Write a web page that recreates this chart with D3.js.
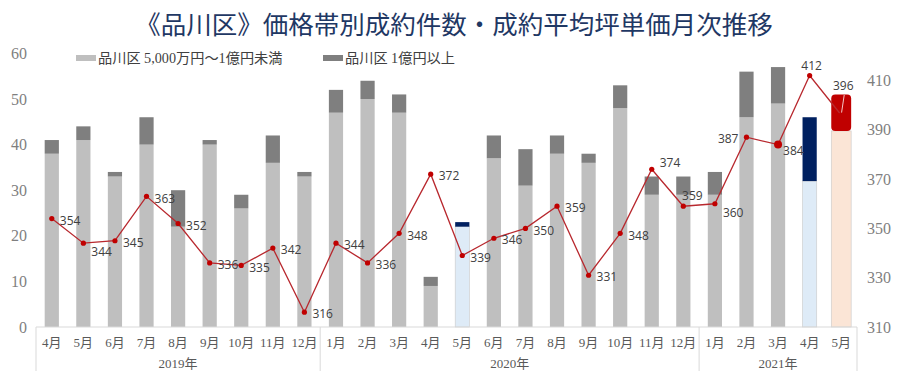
<!DOCTYPE html>
<meta charset="utf-8">
<style>
body { margin: 0; background: #fff; }
.num { font: 16px "Liberation Serif", serif; fill: #7f7f7f; }
.cat { font: 13px "Liberation Serif", "Noto Sans CJK JP", serif; fill: #595959; }
.lbl { font: 12px "Open Sans", "Noto Sans", sans-serif; fill: #404040; }
</style>
<body>
<script src="https://cdn.jsdelivr.net/npm/d3@7"></script>
<script>
// months on the lower category row, years on the upper one
var months = ["4月","5月","6月","7月","8月","9月","10月","11月","12月",
  "1月","2月","3月","4月","5月","6月","7月","8月","9月","10月","11月","12月",
  "1月","2月","3月","4月","5月"];
var years = [{name: "2019年", n: 9}, {name: "2020年", n: 12}, {name: "2021年", n: 5}];

// counts (left axis)
var lowCount  = [38,41,33,40,22,40,26,36,33, 47,50,47,9,22,37,31,38,36,48,29,29, 29,46,49,32,43];
var highCount = [3,3,1,6,8,1,3,6,1, 5,4,4,2,1,5,8,4,2,5,4,4, 5,10,8,14,8];

// average price per tsubo (right axis)
var unitPrice = [354,344,345,363,352,336,335,342,316, 344,336,348,372,339,346,350,359,331,348,374,359, 360,387,384,412,396];

var leftTicks = [0,10,20,30,40,50,60];
var rightTicks = [310,330,350,370,390,410];

var legendNames = ["品川区 5,000万円～1億円未満", "品川区 1億円以上"];

// highlighted bars: index -> colours
var special = {13: ["#deebf7", "#002060"], 24: ["#deebf7", "#002060"], 25: ["#fbe5d6", "#c00000"]};
var labelSide = {20: "t", 22: "l", 24: "t", 25: "tt"};

var W = 900, H = 371;
var plotL = 36, plotR = 857, plotB = 327, plotT = 53.4;

var svg = d3.select("body").append("svg").attr("width", W).attr("height", H);

var x = d3.scaleBand().domain(d3.range(months.length)).range([plotL, plotR])
    .paddingInner(0.55).paddingOuter(0.275);
var y = d3.scaleLinear().domain([0, 60]).range([plotB, plotT]);
var y2 = d3.scaleLinear().domain([310, 421]).range([plotB, plotT]);

// title
svg.append("text")
    .attr("x", 454).attr("y", 27)
    .attr("text-anchor", "middle").attr("dominant-baseline", "middle")
    .style("font", "25.5px 'Noto Sans CJK JP', sans-serif")
    .style("fill", "#1f3864")
    .text("《品川区》価格帯別成約件数・成約平均坪単価月次推移");

// legend
var lg = svg.selectAll(".legend").data(legendNames).enter().append("g")
    .attr("transform", function(d, i) { return "translate(" + [76, 323][i] + ",58)"; });
lg.append("rect").attr("x", 0).attr("y", -3).attr("width", 20).attr("height", 6)
    .style("fill", function(d, i) { return ["#bfbfbf", "#7f7f7f"][i]; });
lg.append("text").attr("x", 22).attr("dy", "0.35em")
    .style("font", "14.2px 'Liberation Serif', 'Noto Sans CJK JP', serif")
    .style("fill", "#404040")
    .text(function(d) { return d; });

// axes
var yl = svg.append("g").attr("transform", "translate(27,0)")
    .call(d3.axisLeft(y).tickValues(leftTicks).tickSize(0).tickPadding(0));
yl.select(".domain").remove();
yl.selectAll("text").attr("class", "num");

var yr = svg.append("g").attr("transform", "translate(867,0)")
    .call(d3.axisRight(y2).tickValues(rightTicks).tickSize(0).tickPadding(0));
yr.select(".domain").remove();
yr.selectAll("text").attr("class", "num");

// bars
var bars = svg.append("g");
var bw = x.bandwidth();
months.forEach(function(m, i) {
  var c = special[i] || ["#bfbfbf", "#7f7f7f"];
  var w = i === 25 ? bw * 1.4 : bw;
  var cx = x(i) + bw / 2;
  bars.append("rect")
      .attr("x", cx - w / 2).attr("width", w)
      .attr("y", y(lowCount[i])).attr("height", y(0) - y(lowCount[i]))
      .style("fill", c[0])
      .style("stroke", special[i] ? "#c9c9c9" : "none").style("stroke-width", 0.6);
  bars.append("rect")
      .attr("x", cx - w / 2).attr("width", w)
      .attr("y", y(lowCount[i] + highCount[i])).attr("height", y(lowCount[i]) - y(lowCount[i] + highCount[i]))
      .attr("rx", i === 25 ? 4 : 0)
      .style("fill", c[1]);
});

// x axis: lines and labels
svg.append("line").attr("x1", plotL).attr("x2", plotR).attr("y1", plotB).attr("y2", plotB)
    .style("stroke", "#d9d9d9");
var start = 0;
var seps = [plotL];
years.forEach(function(g) {
  var a = x(start), b = x(start + g.n - 1) + bw;
  svg.append("text").attr("class", "cat")
      .attr("x", (a + b) / 2).attr("y", 363).attr("dy", "0.35em")
      .attr("text-anchor", "middle").text(g.name);
  start += g.n;
  seps.push(start === months.length ? plotR : x(start) - x.step() * 0.275);
});
svg.selectAll(".sep").data(seps).enter().append("line")
    .attr("x1", function(d) { return d; }).attr("x2", function(d) { return d; })
    .attr("y1", plotB).attr("y2", H)
    .style("stroke", "#d9d9d9");
svg.selectAll(".mon").data(months).enter().append("text")
    .attr("class", "cat")
    .attr("x", function(d, i) { return x(i) + bw / 2; })
    .attr("y", 342).attr("dy", "0.35em")
    .attr("text-anchor", "middle")
    .text(function(d) { return d; });

// price line
var px = function(d, i) { return x(i) + bw / 2; };
svg.append("path").datum(unitPrice)
    .attr("d", d3.line().x(px).y(function(d) { return y2(d); }))
    .style("fill", "none").style("stroke", "#b8282e").style("stroke-width", 1.3);

// leader line for the last label
svg.append("line")
    .attr("x1", px(0, 25)).attr("y1", y2(unitPrice[25]))
    .attr("x2", px(0, 25) + 3).attr("y2", y2(unitPrice[25]) - 20)
    .style("stroke", "#f4c7c7").style("stroke-width", 1);

svg.selectAll(".pt").data(unitPrice).enter().append("circle")
    .attr("cx", px).attr("cy", function(d) { return y2(d); })
    .attr("r", function(d, i) { return i === 23 ? 4 : 2.6; })
    .style("fill", "#c00000");

svg.selectAll(".lbl").data(unitPrice).enter().append("text")
    .attr("class", "lbl")
    .attr("x", function(d, i) {
      var s = labelSide[i];
      if (s === "l") return px(d, i) - 8;
      if (s === "t" || s === "tt") return px(d, i) + (i === 20 ? 9 : 2);
      if (i === 23) return px(d, i) + 5;
      return px(d, i) + 8;
    })
    .attr("y", function(d, i) {
      var s = labelSide[i], yy = y2(d);
      if (s === "t") return yy - 10;
      if (s === "tt") return yy - 29;
      if (i === 1 || i === 21) return yy + 9;
      if (i === 23) return yy + 6;
      if (i === 19) return yy - 6;
      return yy + 2;
    })
    .attr("dy", "0.35em")
    .attr("text-anchor", function(d, i) {
      var s = labelSide[i];
      return s === "l" ? "end" : (s === "t" || s === "tt") ? "middle" : "start";
    })
    .text(function(d) { return d; });
</script>
</body>
